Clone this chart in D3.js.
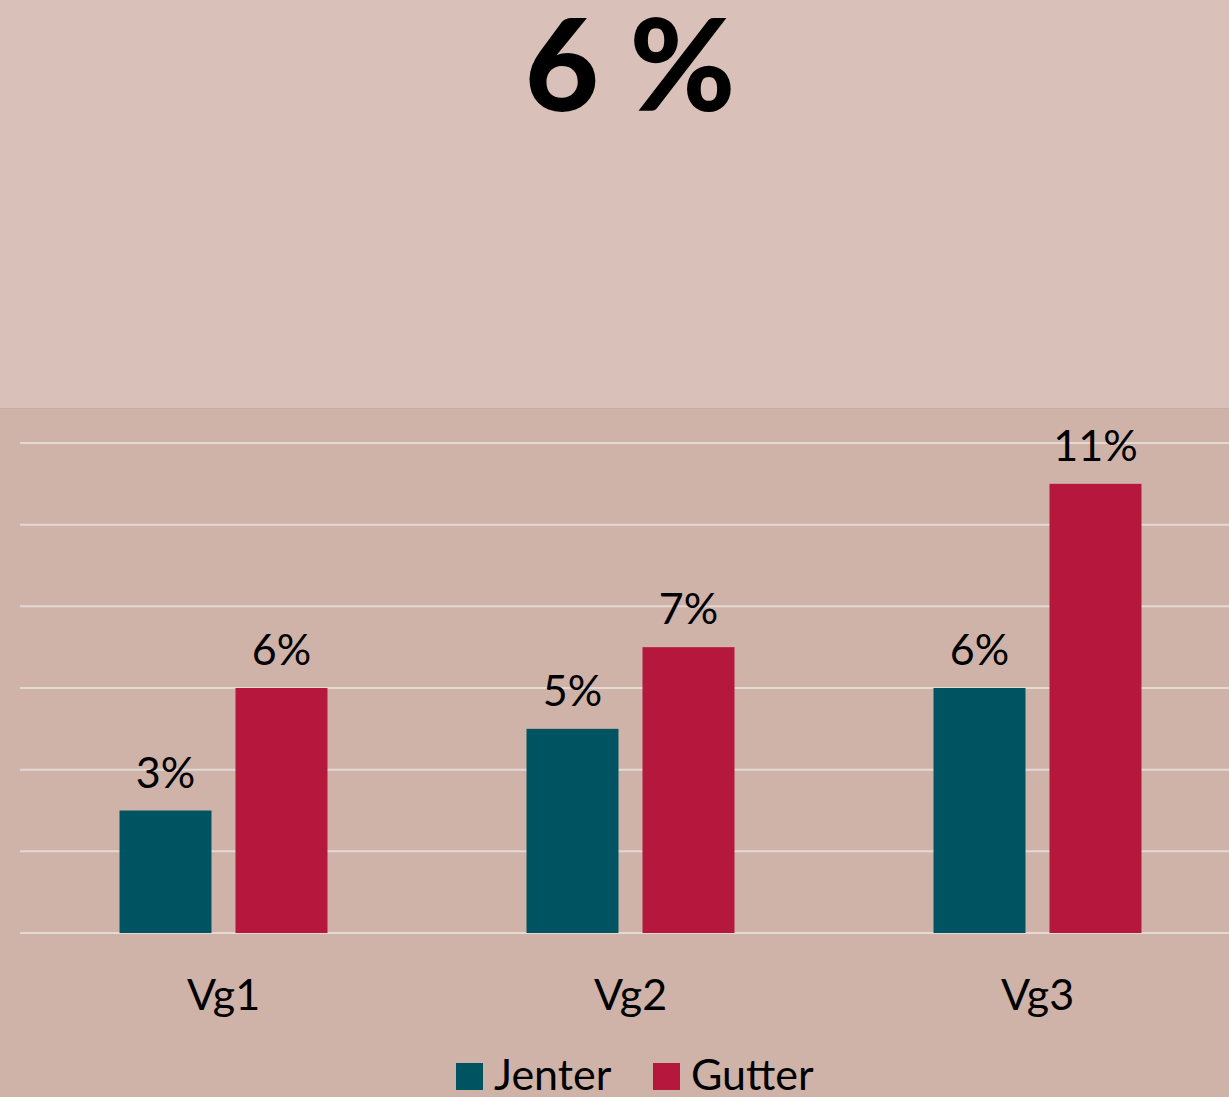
<!DOCTYPE html>
<meta charset="utf-8">
<style>
  body { margin: 0; background: #d9c1b9; }
  svg { display: block; font-family: Lato, "Open Sans", sans-serif; }
  .grid line { stroke: #e3d9d5; stroke-width: 2; }
  .label { font-size: 43px; fill: #000; text-anchor: middle; }
</style>
<body>
<svg width="1229" height="1097"></svg>
<script src="https://d3js.org/d3.v7.min.js"></script>
<script>
  // data
  var categories = ["Vg1", "Vg2", "Vg3"];
  var series = ["Jenter", "Gutter"];
  var jenter = [3, 5, 6];
  var gutter = [6, 7, 11];
  var colors = ["#005462", "#b5173d"];
  var gridTicks = [0, 2, 4, 6, 8, 10, 12];
  var headline = "6 %";

  var W = 1229, H = 1097;
  var svg = d3.select("svg");

  // panels
  svg.append("rect").attr("x", 0).attr("y", 0).attr("width", W).attr("height", 408).attr("fill", "#d9c1b9");
  svg.append("rect").attr("x", 0).attr("y", 408).attr("width", W).attr("height", H - 408).attr("fill", "#cfb3a8");
  svg.append("line").attr("x1", 0).attr("x2", W).attr("y1", 408.5).attr("y2", 408.5).attr("stroke", "#c9ab9f");

  // title
  svg.append("text")
    .attr("x", 630).attr("y", 111)
    .attr("text-anchor", "middle")
    .style("font-size", "128px").style("font-weight", "900")
    .text(headline);

  var x0 = d3.scaleBand().domain(categories).range([20, 1241]);
  var x1 = d3.scaleBand().domain(series).range([0, x0.bandwidth()])
    .paddingInner(0.207).paddingOuter(0.858);
  var y = d3.scaleLinear().domain([0, 12]).range([933, 443]);

  // grid
  svg.append("g").attr("class", "grid")
    .selectAll("line").data(gridTicks).enter().append("line")
      .attr("x1", 20).attr("x2", W)
      .attr("y1", function(d) { return y(d); })
      .attr("y2", function(d) { return y(d); });

  var table = categories.map(function(c, i) {
    return { cat: c, vals: [ {s: series[0], v: jenter[i], c: colors[0]}, {s: series[1], v: gutter[i], c: colors[1]} ] };
  });

  var groups = svg.append("g").selectAll("g").data(table).enter().append("g")
    .attr("transform", function(d) { return "translate(" + x0(d.cat) + ",0)"; });

  groups.selectAll("rect").data(function(d) { return d.vals; }).enter().append("rect")
    .attr("x", function(d) { return x1(d.s); })
    .attr("y", function(d) { return y(d.v); })
    .attr("width", x1.bandwidth())
    .attr("height", function(d) { return y(0) - y(d.v); })
    .attr("fill", function(d) { return d.c; });

  groups.selectAll("text").data(function(d) { return d.vals; }).enter().append("text")
    .attr("class", "label")
    .attr("x", function(d) { return x1(d.s) + x1.bandwidth() / 2; })
    .attr("y", function(d) { return y(d.v) - 23; })
    .text(function(d) { return d.v + "%"; });

  // category axis labels
  svg.append("g").selectAll("text").data(categories).enter().append("text")
    .attr("class", "label")
    .attr("x", function(d) { return x0(d) + x0.bandwidth() / 2; })
    .attr("y", 1010)
    .text(function(d) { return d; });

  // legend
  var legendX = [456, 653];
  var legend = svg.append("g").selectAll("g").data(series).enter().append("g")
    .attr("transform", function(d, i) { return "translate(" + legendX[i] + ",1063)"; });
  legend.append("rect").attr("width", 27).attr("height", 27)
    .attr("fill", function(d, i) { return colors[i]; });
  legend.append("text")
    .attr("x", 38).attr("y", 27)
    .style("font-size", "43px")
    .text(function(d) { return d; });
</script>
</body>
